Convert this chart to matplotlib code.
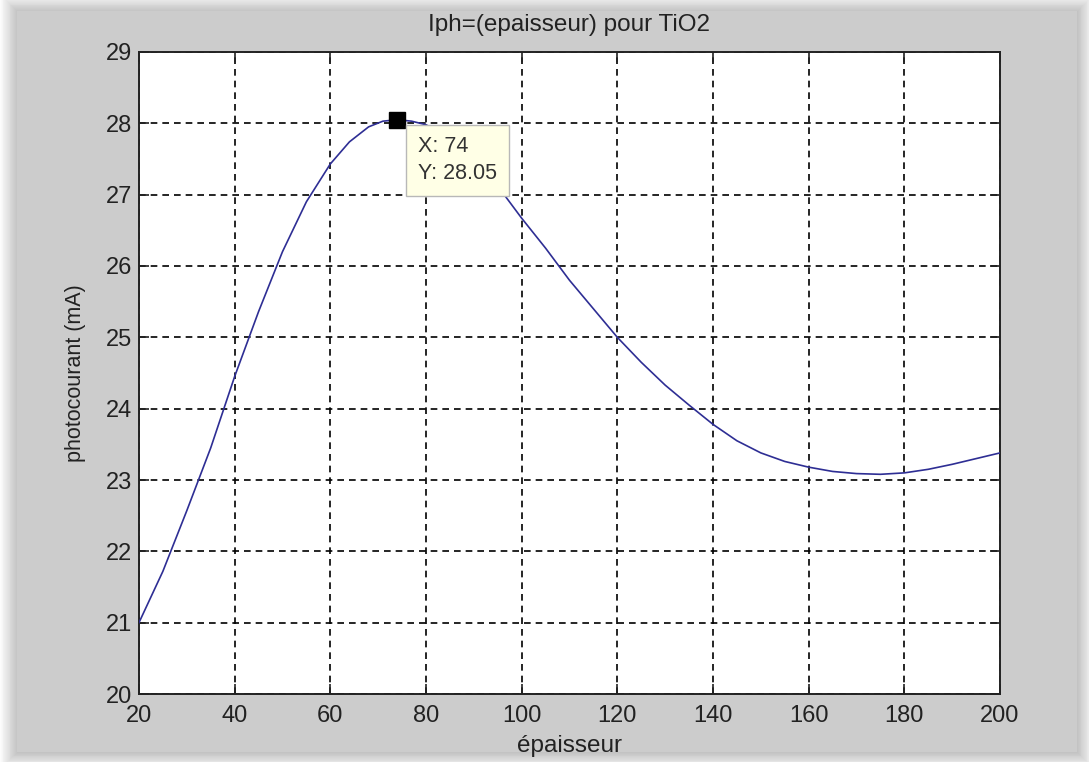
import matplotlib.pyplot as plt
import numpy as np
from matplotlib.patches import Rectangle

plt.rcParams['font.family'] = ['Liberation Sans', 'DejaVu Sans']
plt.rcParams['font.size'] = 17

# thickness values and photocurrent
epaisseur = [20, 25, 30, 35, 40, 45, 50, 55, 60, 64, 68, 71, 74, 77, 80, 85,
             90, 95, 100, 105, 110, 115, 120, 125, 130, 135, 140, 145, 150,
             155, 160, 165, 170, 175, 180, 185, 190, 195, 200]
iph = [21.0, 21.72, 22.57, 23.45, 24.45, 25.36, 26.2, 26.9, 27.43, 27.74,
       27.95, 28.03, 28.05, 28.03, 27.98, 27.8, 27.5, 27.12, 26.67, 26.25,
       25.8, 25.4, 25.0, 24.65, 24.33, 24.05, 23.78, 23.55, 23.38, 23.26,
       23.18, 23.12, 23.09, 23.08, 23.1, 23.15, 23.22, 23.3, 23.38]
xticks = [20, 40, 60, 80, 100, 120, 140, 160, 180, 200]
yticks = [20, 21, 22, 23, 24, 25, 26, 27, 28, 29]

fig = plt.figure(figsize=(10.89, 7.62), dpi=100)
fig.patch.set_facecolor('white')

# soft shadow + grey matlab panel
x0, y0, w, h = 0.016, 0.013, 0.973, 0.972
n = 20
for i in range(n):
    pad = (n - i) * 0.0008
    fig.patches.append(Rectangle((x0 - pad, y0 - pad * 1.4),
                                 w + 2 * pad, h + 2 * pad * 1.4,
                                 transform=fig.transFigure, facecolor='#000000',
                                 alpha=0.012, edgecolor='none', zorder=-10))
fig.patches.append(Rectangle((x0, y0), w, h, transform=fig.transFigure,
                             facecolor='#cccccc', edgecolor='none', zorder=-9))

ax = fig.add_axes([0.1276, 0.0892, 0.7907, 0.8426])
ax.set_zorder(1)
ax.set_facecolor('white')
ax.plot(epaisseur, iph, color='#2e2e94', linewidth=1.2, zorder=3)

ax.set_xlim(20, 200)
ax.set_ylim(20, 29)
ax.set_xticks(xticks)
ax.set_yticks(yticks)
ax.grid(True, color='black', linestyle=(0, (4.0, 3.0)), linewidth=1.2)
ax.tick_params(direction='in', length=7, width=1.2, top=True, right=True,
               labelsize=17, colors='#222222', pad=5)
ax.tick_params(axis='x', pad=8)
for s in ax.spines.values():
    s.set_linewidth(1.4)
    s.set_color('#222222')

ax.set_title('Iph=(epaisseur) pour TiO2', fontsize=17.5, color='#222222', pad=15)
ax.set_xlabel('épaisseur', fontsize=17.5, color='#222222', labelpad=6)
ax.set_ylabel('photocourant (mA)', fontsize=15.5, color='#222222', labelpad=14)

# data tip on the maximum
k = int(np.argmax(iph))
ax.plot(epaisseur[k], iph[k], marker='s', color='black', markersize=11, zorder=5)
ax.annotate('X: %d\nY: %.2f' % (epaisseur[k], iph[k]), xy=(epaisseur[k], iph[k]),
            xytext=(15, -12), textcoords='offset points', ha='left', va='top',
            fontsize=15.5, color='#333333', linespacing=1.35,
            bbox=dict(boxstyle='square,pad=0.55', facecolor='#ffffe6',
                      edgecolor='#b8b8b8', linewidth=1), zorder=6)

fig.savefig('out.png', dpi=100)
